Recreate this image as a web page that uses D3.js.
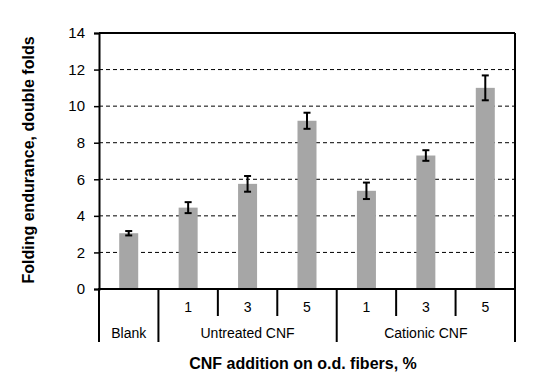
<!DOCTYPE html>
<html>
<head>
<meta charset="utf-8">
<script src="https://cdn.jsdelivr.net/npm/d3@7"></script>
<style>
body { margin: 0; background: #fff; }
svg { font-family: Arial, "Liberation Sans", sans-serif; }
</style>
</head>
<body>
<script>
// data
var categories = ['b', 'u1', 'u3', 'u5', 'c1', 'c3', 'c5'];
var levelLabels = ['', '1', '3', '5', '1', '3', '5'];
var groups = [
    { name: 'Blank', from: 0, to: 1 },
    { name: 'Untreated CNF', from: 1, to: 4 },
    { name: 'Cationic CNF', from: 4, to: 7 }
];
var values = [3.05, 4.45, 5.75, 9.2, 5.37, 7.3, 11.0];
var errors = [0.12, 0.3, 0.43, 0.44, 0.45, 0.29, 0.68];
var yTicks = [0, 2, 4, 6, 8, 10, 12, 14];

var W = 536, H = 387;
var pLeft = 99, pRight = 515, pTop = 33, pBottom = 289;

var svg = d3.select('body').append('svg')
    .attr('width', W)
    .attr('height', H);

var x = d3.scaleBand()
    .domain(categories)
    .range([pLeft, pRight])
    .paddingInner(0)
    .paddingOuter(0);

var y = d3.scaleLinear()
    .domain([0, 14])
    .range([pBottom, pTop]);

// grid lines
svg.append('g').selectAll('line')
    .data(yTicks.filter(function (d) { return d > 0 && d < 14; }))
    .enter().append('line')
    .attr('x1', pLeft).attr('x2', pRight)
    .attr('y1', function (d) { return y(d); })
    .attr('y2', function (d) { return y(d); })
    .attr('stroke', '#000')
    .attr('stroke-width', 1)
    .attr('stroke-dasharray', '4,3');

// bars
var bw = 19;
svg.append('g').selectAll('rect')
    .data(values)
    .enter().append('rect')
    .attr('x', function (d, i) { return x(categories[i]) + x.bandwidth() / 2 - bw / 2; })
    .attr('y', function (d) { return y(d); })
    .attr('width', bw)
    .attr('height', function (d) { return pBottom - y(d); })
    .attr('fill', '#a6a6a6');

// error bars
var eb = svg.append('g').attr('stroke', '#000').attr('stroke-width', 2);
values.forEach(function (v, i) {
    var cx = x(categories[i]) + x.bandwidth() / 2;
    var y1 = y(v + errors[i]), y2 = y(v - errors[i]);
    eb.append('line').attr('x1', cx).attr('x2', cx).attr('y1', y1).attr('y2', y2);
    eb.append('line').attr('x1', cx - 3.5).attr('x2', cx + 3.5).attr('y1', y1).attr('y2', y1);
    eb.append('line').attr('x1', cx - 3.5).attr('x2', cx + 3.5).attr('y1', y2).attr('y2', y2);
});

// frame
svg.append('line').attr('x1', pLeft).attr('x2', pRight).attr('y1', pTop).attr('y2', pTop)
    .attr('stroke', '#000').attr('stroke-width', 2);
svg.append('line').attr('x1', pRight).attr('x2', pRight).attr('y1', pTop).attr('y2', pBottom)
    .attr('stroke', '#000').attr('stroke-width', 2);

// y axis
var yAxis = svg.append('g')
    .attr('transform', 'translate(' + pLeft + ',0)')
    .call(d3.axisLeft(y).tickValues(yTicks).tickSize(5).tickPadding(9));
yAxis.select('.domain').attr('stroke-width', 2);
yAxis.selectAll('.tick line').attr('stroke-width', 1.5);
yAxis.selectAll('text').attr('font-size', '15px').attr('fill', '#000')
    .attr('font-family', 'Arial, "Liberation Sans", sans-serif');

// x axis line
svg.append('line').attr('x1', pLeft - 1).attr('x2', pRight + 1).attr('y1', pBottom).attr('y2', pBottom)
    .attr('stroke', '#000').attr('stroke-width', 2);

// category dividers
var divs = d3.range(0, categories.length + 1);
var groupEdges = [0, 1, 4, 7];
svg.append('g').selectAll('line')
    .data(divs)
    .enter().append('line')
    .attr('x1', function (d) { return pLeft + d * x.step(); })
    .attr('x2', function (d) { return pLeft + d * x.step(); })
    .attr('y1', pBottom)
    .attr('y2', function (d) { return groupEdges.indexOf(d) >= 0 ? 342 : 316; })
    .attr('stroke', '#000')
    .attr('stroke-width', 2);

// level labels
svg.append('g').selectAll('text')
    .data(levelLabels)
    .enter().append('text')
    .attr('x', function (d, i) { return x(categories[i]) + x.bandwidth() / 2; })
    .attr('y', 312)
    .attr('text-anchor', 'middle')
    .attr('font-size', '14px')
    .text(function (d) { return d; });

// group labels
svg.append('g').selectAll('text')
    .data(groups)
    .enter().append('text')
    .attr('x', function (d) { return pLeft + (d.from + d.to) / 2 * x.step(); })
    .attr('y', 338)
    .attr('text-anchor', 'middle')
    .attr('font-size', '14px')
    .text(function (d) { return d.name; });

// titles
svg.append('text')
    .attr('x', 303).attr('y', 369)
    .attr('text-anchor', 'middle')
    .attr('font-size', '16px')
    .attr('font-weight', 'bold')
    .text('CNF addition on o.d. fibers, %');

svg.append('text')
    .attr('transform', 'translate(34,160) rotate(-90)')
    .attr('text-anchor', 'middle')
    .attr('font-size', '16px')
    .attr('font-weight', 'bold')
    .text('Folding endurance, double folds');
</script>
</body>
</html>
